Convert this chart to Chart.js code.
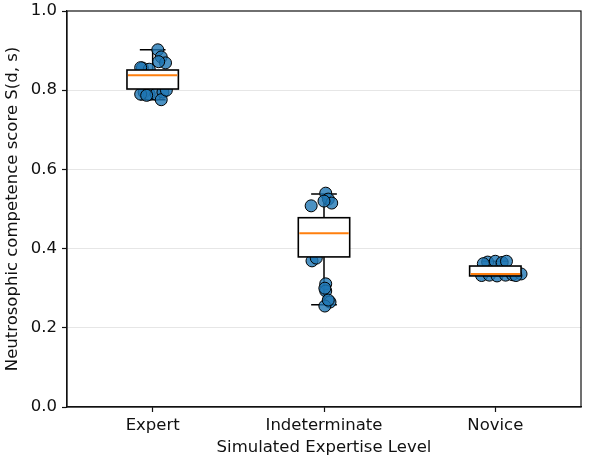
<!DOCTYPE html>
<html>
<head>
<meta charset="utf-8">
<script src="https://cdn.jsdelivr.net/npm/chart.js@4.4.1/dist/chart.umd.min.js"></script>
<style>
  html, body { margin: 0; padding: 0; background: #fff; }
  #wrap { width: 590px; height: 464px; }
</style>
</head>
<body>
<div id="wrap"><canvas id="chart" width="590" height="464"></canvas></div>
<script>
/* =========================================================
   DATA
========================================================= */
const levels = ["Expert", "Indeterminate", "Novice"];

// jittered points (score, horizontal offset from category centre)
const expertScores = [0.902, 0.884, 0.869, 0.872, 0.856, 0.853, 0.857, 0.795, 0.790, 0.790, 0.795, 0.790, 0.776, 0.800, 0.787];
const expertJitter = [0.03, 0.05, 0.075, 0.035, -0.06, -0.02, -0.07, -0.05, -0.02, 0.02, 0.06, -0.07, 0.05, 0.08, -0.035];

const indetScores = [0.508, 0.540, 0.525, 0.515, 0.520, 0.369, 0.376, 0.311, 0.293, 0.300, 0.265, 0.255, 0.270];
const indetJitter = [-0.075, 0.01, 0.025, 0.045, 0.0, -0.07, -0.045, 0.01, 0.01, 0.005, 0.035, 0.005, 0.025];

const noviceScores = [0.366, 0.368, 0.365, 0.362, 0.368, 0.332, 0.333, 0.331, 0.333, 0.334, 0.336, 0.332];
const noviceJitter = [-0.045, 0.0, 0.04, -0.07, 0.065, -0.08, -0.035, 0.01, 0.06, 0.1, 0.15, 0.12];

// box statistics: [whiskerLow, q1, median, q3, whiskerHigh]
const expertBox = [0.776, 0.803, 0.838, 0.851, 0.902];
const indetBox  = [0.258, 0.379, 0.439, 0.478, 0.538];
const noviceBox = [0.331, 0.331, 0.336, 0.356, 0.368];

const yTicks = [0, 0.2, 0.4, 0.6, 0.8, 1.0];

/* =========================================================
   HELPERS
========================================================= */
const BOX_HALF = 0.15;
const CAP_HALF = 0.075;
const FONT = "'DejaVu Sans', sans-serif";
const FSIZE = 16.5;

function toPoints(scores, jitter, pos) {
  return scores.map((s, i) => ({ x: pos + jitter[i], y: s }));
}

const boxes = [expertBox, indetBox, noviceBox];

/* =========================================================
   BOXPLOT PLUGIN
========================================================= */
const boxPlugin = {
  id: "boxes",
  beforeDatasetsDraw(chart) {
    const { ctx, scales: { x, y } } = chart;
    ctx.save();
    ctx.strokeStyle = "#000";
    ctx.lineWidth = 1.5;
    boxes.forEach((b, i) => {
      const pos = i + 1;
      const cx = x.getPixelForValue(pos);
      const c0 = x.getPixelForValue(pos - CAP_HALF);
      const c1 = x.getPixelForValue(pos + CAP_HALF);
      ctx.beginPath();
      ctx.moveTo(cx, y.getPixelForValue(b[0]));
      ctx.lineTo(cx, y.getPixelForValue(b[1]));
      ctx.moveTo(cx, y.getPixelForValue(b[3]));
      ctx.lineTo(cx, y.getPixelForValue(b[4]));
      ctx.moveTo(c0, y.getPixelForValue(b[0]));
      ctx.lineTo(c1, y.getPixelForValue(b[0]));
      ctx.moveTo(c0, y.getPixelForValue(b[4]));
      ctx.lineTo(c1, y.getPixelForValue(b[4]));
      ctx.stroke();
    });
    ctx.restore();
  },
  afterDatasetsDraw(chart) {
    const { ctx, scales: { x, y } } = chart;
    ctx.save();
    boxes.forEach((b, i) => {
      const pos = i + 1;
      const l = x.getPixelForValue(pos - BOX_HALF);
      const r = x.getPixelForValue(pos + BOX_HALF);
      const top = y.getPixelForValue(b[3]);
      const bot = y.getPixelForValue(b[1]);
      ctx.fillStyle = "#fff";
      ctx.fillRect(l, top, r - l, bot - top);
      ctx.strokeStyle = "#000";
      ctx.lineWidth = 1.6;
      ctx.strokeRect(l, top, r - l, bot - top);
      const m = y.getPixelForValue(b[2]);
      ctx.strokeStyle = "#ff7f0e";
      ctx.lineWidth = 2;
      ctx.beginPath();
      ctx.moveTo(l + 1, m);
      ctx.lineTo(r - 1, m);
      ctx.stroke();
    });
    ctx.restore();
  },
  afterDraw(chart) {
    const { ctx, chartArea: a } = chart;
    ctx.save();
    ctx.strokeStyle = "#111";
    ctx.lineWidth = 1.2;
    ctx.strokeRect(a.left, a.top, a.right - a.left, a.bottom - a.top);
    ctx.restore();
  }
};

/* =========================================================
   CHART
========================================================= */
const pointStyle = {
  backgroundColor: "rgba(31,119,180,0.8)",
  borderColor: "#000",
  borderWidth: 1,
  pointRadius: 6,
  pointHoverRadius: 6
};

new Chart(document.getElementById("chart"), {
  type: "scatter",
  data: {
    datasets: [
      { label: levels[0], data: toPoints(expertScores, expertJitter, 1), ...pointStyle },
      { label: levels[1], data: toPoints(indetScores, indetJitter, 2), ...pointStyle },
      { label: levels[2], data: toPoints(noviceScores, noviceJitter, 3), ...pointStyle }
    ]
  },
  options: {
    responsive: false,
    animation: false,
    layout: { padding: { left: 0, right: 9, top: 11, bottom: 0 } },
    plugins: { legend: { display: false }, tooltip: { enabled: false } },
    scales: {
      x: {
        type: "linear",
        min: 0.5,
        max: 3.5,
        afterBuildTicks: s => { s.ticks = levels.map((_, i) => ({ value: i + 1 })); },
        afterFit: s => { s.height = 57; s.paddingLeft = 0; s.paddingRight = 0; },
        ticks: {
          autoSkip: false,
          maxRotation: 0,
          padding: 4,
          color: "#111",
          font: { family: FONT, size: FSIZE },
          callback: v => levels[v - 1]
        },
        grid: { drawOnChartArea: false, tickLength: 5, tickColor: "#111", tickWidth: 1.2 },
        border: { color: "#111", width: 1.2 },
        title: {
          display: true,
          text: "Simulated Expertise Level",
          color: "#111",
          font: { family: FONT, size: FSIZE },
          padding: { top: 2, bottom: 6 }
        }
      },
      y: {
        min: 0,
        max: 1,
        afterBuildTicks: s => { s.ticks = yTicks.map(v => ({ value: v })); },
        afterFit: s => { s.width = 67; s.paddingTop = 0; s.paddingBottom = 0; },
        ticks: {
          padding: 5,
          color: "#111",
          font: { family: FONT, size: FSIZE },
          callback: v => v.toFixed(1)
        },
        grid: {
          color: c => (c.tick && (c.tick.value === 0 || c.tick.value === 1)) ? "rgba(0,0,0,0)" : "#e6e6e6",
          lineWidth: 1,
          tickLength: 5,
          tickColor: "#111",
          tickWidth: 1.2
        },
        border: { color: "#111", width: 1.2 },
        title: {
          display: true,
          text: "Neutrosophic competence score S(d, s)",
          color: "#111",
          font: { family: FONT, size: FSIZE },
          padding: { top: 3, bottom: 2 }
        }
      }
    }
  },
  plugins: [boxPlugin]
});
</script>
</body>
</html>
